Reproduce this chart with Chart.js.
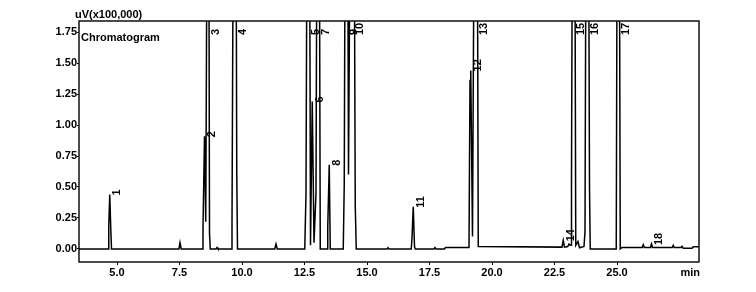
<!DOCTYPE html>
<html>
<head>
<meta charset="utf-8">
<script src="https://cdn.jsdelivr.net/npm/chart.js@4"></script>
<style>
  html, body { margin: 0; padding: 0; background: #fff; }
  #wrap { width: 756px; height: 292px; }
</style>
</head>
<body>
<div id="wrap"><canvas id="c" width="756" height="292"></canvas></div>
<script>
// ---- data ----
const yTitle = "uV(x100,000)";
const traceName = "Chromatogram";
const xUnit = "min";

const xTickValues = [5.0, 7.5, 10.0, 12.5, 15.0, 17.5, 20.0, 22.5, 25.0];
const yTickValues = [0.00, 0.25, 0.50, 0.75, 1.00, 1.25, 1.50, 1.75];
const xRange = [3.48, 28.28];
const yRange = [-0.105, 1.839];

// retention time (min)
const times = [
  3.48, 4.64, 4.67, 4.71, 4.75, 4.78,
  7.48, 7.52, 7.57,
  8.40, 8.44, 8.50, 8.55, 8.65, 8.70, 8.73,
  8.96, 9.00, 9.04,
  9.57, 9.60, 9.72, 9.79, 9.82,
  11.31, 11.36, 11.41,
  12.51, 12.56, 12.66, 12.74, 12.81, 12.88, 12.96, 13.05, 13.13,
  13.40, 13.43, 13.49, 13.53,
  14.05, 14.09, 14.18, 14.26, 14.43, 14.53, 14.57,
  15.80, 15.84, 15.88,
  16.77, 16.80, 16.85, 16.90, 16.93,
  17.68, 17.72, 17.76,
  18.10, 18.14,
  19.08, 19.12, 19.15, 19.22, 19.37, 19.45,
  22.80, 22.85, 22.90, 23.03, 23.08, 23.13, 23.16, 23.18, 23.27, 23.35, 23.44, 23.50, 23.68, 23.72, 23.81, 23.90, 23.93,
  24.97, 25.05, 25.13,
  25.20, 26.01, 26.05, 26.09, 26.34, 26.38, 26.42, 27.21, 27.25, 27.29, 27.56, 27.60, 27.65, 28.00, 28.05, 28.28
];
// detector signal (uV x 100,000); tall peaks run off the top of the scale
const signal = [
  0, 0, 0.18, 0.44, 0.17, 0,
  0, 0.05, 0,
  0, 0.17, 0.91, 0.22, 5.0, 0.13, 0,
  0, 0.012, 0,
  0, 0.21, 6.0, 0.62, 0,
  0, 0.04, 0,
  0, 0.45, 6.0, 0.03, 1.19, 0.05, 0.45, 6.0, 0,
  0, 0.18, 0.68, 0,
  0, 0.52, 6.0, 0.6, 6.0, 0.35, 0,
  0, 0.01, 0,
  0, 0.09, 0.34, 0.02, 0,
  0, 0.012, 0,
  0, 0.012,
  0.012, 1.36, 1.44, 0.1, 6.0, 0.02,
  0.015, 0.07, 0.015, 0.02, 0.04, 0.03, 0.03, 0.57, 6.0, 0.03, 0.06, 0.01, 0.02, 0.14, 6.0, 0.5, 0,
  0, 6.0, 0,
  0.012, 0.012, 0.035, 0.012, 0.012, 0.04, 0.012, 0.012, 0.03, 0.012, 0.012, 0.022, 0.005, 0.005, 0.018, 0.018
];

// peak numbers and their apex retention times
const peakNumbers = ["1","2","3","4","5","6","7","8","9","10","11","12","13","14","15","16","17","18"];
const peakTimes   = [4.71, 8.50, 8.65, 9.72, 12.66, 12.81, 13.05, 13.49, 14.18, 14.43, 16.85, 19.15, 19.37, 22.85, 23.27, 23.81, 25.05, 26.38];

// ---- chart ----
const FONT = "'Liberation Sans', Arial, sans-serif";
const points = times.map((t, i) => ({ x: t, y: signal[i] }));

function apexOf(t) {
  let best = 0, bd = Infinity;
  times.forEach((tt, i) => { const d = Math.abs(tt - t); if (d < bd) { bd = d; best = i; } });
  return signal[best];
}

const decorPlugin = {
  id: 'decor',
  afterDatasetsDraw(chart) {
    const { ctx, chartArea: a, scales: { x, y } } = chart;
    ctx.save();
    // frame
    ctx.strokeStyle = '#111';
    ctx.lineWidth = 1.5;
    ctx.strokeRect(a.left, a.top, a.right - a.left, a.bottom - a.top);

    ctx.fillStyle = '#000';
    ctx.font = 'bold 11px ' + FONT;
    ctx.textBaseline = 'alphabetic';
    ctx.textAlign = 'left';
    ctx.fillText(yTitle, a.left - 4, a.top - 3);
    ctx.fillText(traceName, a.left + 2, a.top + 20);
    ctx.textAlign = 'right';
    ctx.fillText(xUnit, a.right + 1, a.bottom + 14);

    // peak number labels (rotated)
    ctx.font = 'bold 11px ' + FONT;
    peakNumbers.forEach((lab, i) => {
      const t = peakTimes[i];
      const h = apexOf(t);
      const px = x.getPixelForValue(t) + 2;
      let py;
      if (h >= y.max) {
        py = a.top + 14;
      } else {
        py = y.getPixelForValue(h) + 1;
      }
      ctx.save();
      ctx.translate(px, py);
      ctx.rotate(-Math.PI / 2);
      ctx.textAlign = 'left';
      ctx.textBaseline = 'top';
      ctx.fillText(lab, 0, 0);
      ctx.restore();
    });
    ctx.restore();
  }
};

new Chart(document.getElementById('c'), {
  type: 'line',
  data: {
    datasets: [{
      data: points,
      borderColor: '#000',
      borderWidth: 1.5,
      pointRadius: 0,
      tension: 0,
      fill: false
    }]
  },
  options: {
    responsive: false,
    animation: false,
    devicePixelRatio: 1,
    layout: { padding: { top: 21, right: 57, left: 0, bottom: 0 } },
    plugins: { legend: { display: false }, tooltip: { enabled: false }, title: { display: false } },
    scales: {
      x: {
        type: 'linear',
        min: xRange[0], max: xRange[1],
        afterBuildTicks: (s) => { s.ticks = xTickValues.map(v => ({ value: v })); },
        afterFit: (s) => { s.height = 30; },
        border: { display: false },
        grid: { display: true, drawOnChartArea: false, drawTicks: true, tickLength: 3, color: '#000', lineWidth: 1 },
        ticks: {
          autoSkip: false, maxRotation: 0, padding: 1, color: '#000',
          font: { family: FONT, weight: 'bold', size: 11 },
          callback: (v) => Number(v).toFixed(1)
        }
      },
      y: {
        type: 'linear',
        min: yRange[0], max: yRange[1],
        afterBuildTicks: (s) => { s.ticks = yTickValues.map(v => ({ value: v })); },
        afterFit: (s) => { s.width = 79; },
        border: { display: false },
        grid: { display: true, drawOnChartArea: false, drawTicks: true, tickLength: 2, color: '#000', lineWidth: 1 },
        ticks: {
          autoSkip: false, padding: 0, color: '#000',
          font: { family: FONT, weight: 'bold', size: 11 },
          callback: (v) => Number(v).toFixed(2)
        }
      }
    }
  },
  plugins: [decorPlugin]
});
</script>
</body>
</html>
